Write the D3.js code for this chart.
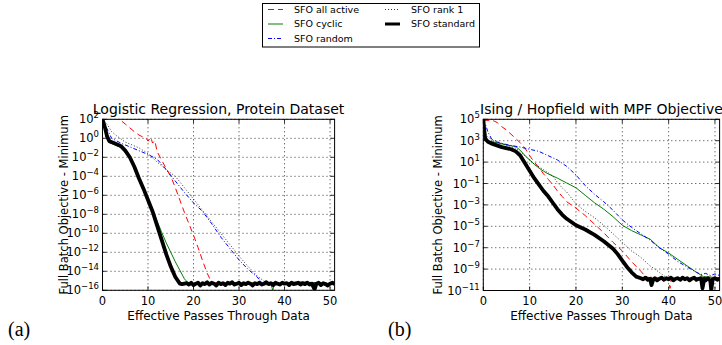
<!DOCTYPE html>
<html>
<head>
<meta charset="utf-8">
<script src="https://cdn.jsdelivr.net/npm/d3@7"></script>
<style>
  body { margin: 0; background: #fff; }
  svg { display: block; font-family: "DejaVu Sans", sans-serif; }
</style>
</head>
<body>
<div id="chart"></div>
<script>
// values are log10(full batch objective - minimum)
// [effective passes, log10 value]

// (a) Logistic Regression, Protein Dataset
const proteinAllActive = [[0,2],[1,2.05],[3,2.05],[4,1.9],[5,1.5],[6,1.1],[7,0.7],[8,0.35],[9,0.1],[9.6,0],[10,-0.3],[10.6,0.1],[11,-0.5],[11.5,-0.25],[12,-1.4],[13,-2.3],[14,-3.2],[15,-4],[16,-5.2],[17,-6.5],[18,-7.8],[19,-9],[20,-10.2],[21,-11.5],[22,-12.9],[23,-14.2],[24,-15.2],[28,-15.3],[33,-15.2],[37,-15.5],[41,-15.25],[46,-15.3],[51,-15.3]];
const proteinCyclic = [[0,2],[0.5,1],[1,0.1],[1.5,-0.45],[2.5,-0.65],[4,-0.95],[5,-1.4],[6,-2.1],[7,-3.1],[8,-4.3],[9,-5.4],[10,-6.5],[11,-7.5],[12,-8.7],[13,-9.9],[14,-11],[15,-12],[16,-13],[17,-13.9],[18,-14.8],[19,-15.3],[25,-15.3],[30,-15.2],[37,-15.3],[37.4,-16],[37.8,-15.3],[43,-15.1],[51,-15.3]];
const proteinRandom = [[0,2],[1,1],[2,0],[4,-0.5],[6,-0.9],[8,-1.3],[10,-1.7],[12,-2.2],[14,-3.3],[16,-4.5],[18,-5.7],[20,-6.8],[22,-7.7],[24,-9],[26,-10.4],[28,-11.6],[30,-12.8],[32,-13.8],[34,-14.6],[35,-15.2],[42,-15.2],[51,-15.3]];
const proteinRank1 = [[0,2],[1,1.5],[2,0.7],[3,0.3],[5,-0.4],[8,-1],[10,-1.6],[12,-2.5],[14,-3.3],[16,-4],[18,-5.2],[20,-6.4],[22,-7.6],[24,-8.8],[26,-10],[28,-11.2],[30,-12.4],[32,-13.5],[34,-14.5],[36,-15.2],[44,-15.2],[51,-15.3]];
const proteinStandard = [[0,2],[0.5,1.2],[1,0.2],[1.5,-0.3],[2.5,-0.5],[4,-0.8],[5,-1.3],[6,-2],[7,-3],[8,-4.2],[9,-5.3],[10,-6.5],[11,-7.7],[12,-9.2],[13,-10.7],[14,-12.2],[15,-13.5],[16,-14.6],[17,-15.3],
  [17.5,-15.35],[18,-15.3],[18.5,-15.25],[19,-15.4],[19.5,-15.2],[20,-15.45],[20.5,-15.3],[21,-15.2],[21.5,-15.5],[22,-15.25],[22.5,-15.35],[23,-15.15],[23.5,-15.4],[24,-15.2],[24.5,-15.3],[25,-15.5],[25.5,-15.2],[26,-15.35],[26.5,-15.25],[27,-15.45],[27.5,-15.2],[28,-15.3],[28.5,-15.15],[29,-15.4],[29.5,-15.3],[30,-15.2],[30.5,-15.45],[31,-15.25],[31.5,-15.35],[32,-15.2],[32.5,-15.3],[33,-15.5],[33.5,-15.25],[34,-15.35],[34.5,-15.2],[35,-15.4],[35.5,-15.3],[36,-15.15],[36.5,-15.35],[37,-15.25],[37.5,-15.45],[38,-15.2],[38.5,-15.3],[39,-15.4],[39.5,-15.2],[40,-15.3],[40.5,-15.25],[41,-15.45],[41.5,-15.2],[42,-15.35],[42.5,-15.3],[43,-15.2],[43.5,-15.4],[44,-15.25],[44.5,-15.35],[45,-15.2],[45.5,-15.4],[46,-15.3],[46.6,-15.9],[47,-15.3],[47.5,-15.2],[48,-15.45],[48.5,-15.25],[49,-15.35],[49.5,-15.5],[50,-15.3],[50.5,-15.2],[51,-15.35]];

// (b) Ising / Hopfield with MPF Objective
const isingAllActive = [[0,4.9],[2,4.9],[3,4.7],[4,4.3],[5,4],[6,3.6],[7,3.2],[8,2.8],[9,2.3],[10,1.6],[11,1],[12,0.5],[13,-0.1],[14,-0.6],[15,-1.1],[16,-1.7],[17,-2.2],[18,-2.7],[19,-3],[20,-3.3],[22,-4],[24,-4.8],[26,-5.6],[28,-6.5],[30,-7.3],[32,-8.3],[34,-9.2],[35,-9.7],[36,-9.8],[37,-9.7],[38,-9.9],[39,-9.75],[40,-9.9],[40.3,-10.8],[40.6,-9.8],[41.5,-9.7],[42.5,-9.9],[43.5,-9.75],[44.5,-9.85],[45.5,-9.7],[46.5,-9.9],[47.5,-9.75],[48.5,-9.8],[49.5,-9.7],[51,-9.85]];
const isingCyclic = [[0,5],[0.3,3.5],[1,3],[3,2.8],[5,2.6],[7,2.45],[8,2.1],[9,1.6],[10,1.2],[11,0.8],[12,0.45],[13,0.15],[14,-0.1],[16,-0.5],[18,-0.95],[20,-1.4],[22,-2.1],[24,-2.8],[26,-3.4],[28,-4.1],[30,-4.9],[32,-5.4],[34,-5.8],[36,-6.2],[38,-7],[40,-7.5],[42,-8.1],[44,-8.7],[46,-9.3],[47.5,-9.7],[49,-9.75],[51,-9.8]];
const isingRandom = [[0,5],[0.5,4.5],[1,3.8],[2,3],[4,2.75],[6,2.55],[8,2.4],[10,2.2],[12,2],[14,1.6],[16,1.2],[18,0.6],[20,-0.2],[22,-1.2],[24,-2],[26,-2.7],[28,-3.5],[30,-4.4],[32,-5.1],[34,-5.7],[36,-6.3],[38,-7],[40,-7.6],[42,-8.3],[44,-8.8],[46,-9.3],[47,-9.5],[48,-9.4],[49,-9.6],[50,-9.45],[51,-9.6]];
const isingRank1 = [[0,5],[0.3,3.8],[1,3.3],[3,2.9],[5,2.6],[7,2.3],[9,1.6],[11,0.8],[13,0.3],[15,-0.3],[16,-0.9],[17,-1.4],[18,-1.8],[20,-2.9],[22,-3.6],[24,-4.2],[26,-4.9],[28,-5.7],[30,-6.5],[32,-7.3],[34,-7.9],[36,-8.7],[38,-9.3],[39.5,-9.8],[45,-9.85],[51,-9.9]];
const isingStandard = [[0,5],[0.2,4],[0.4,3.2],[1,2.9],[2,2.7],[4,2.4],[6,2.2],[7,2],[8,1.6],[9,0.9],[10,0.2],[11,-0.5],[12,-1.1],[13,-1.7],[14,-2.2],[15,-2.8],[16,-3.4],[17,-3.9],[18,-4.3],[19,-4.6],[20,-4.9],[22,-5.3],[24,-5.8],[26,-6.4],[28,-7.1],[29,-7.6],[30,-8.2],[31,-8.8],[32,-9.3],[33,-9.7],[34,-9.85],
  [34.5,-9.95],[35,-9.8],[35.5,-10],[36,-9.9],[36.3,-10.5],[36.7,-9.95],[37,-9.85],[37.5,-10.05],[38,-9.9],[38.5,-9.8],[39,-10],[39.5,-9.85],[40,-9.95],[40.5,-9.8],[41,-10.05],[41.5,-9.9],[42,-9.85],[42.5,-10],[43,-9.8],[43.5,-9.95],[44,-9.85],[44.5,-10.05],[45,-9.9],[45.5,-9.8],[46,-10],[46.5,-9.9],[47,-9.85],[47.3,-10.8],[47.7,-9.9],[48,-10.05],[48.5,-9.85],[49,-10.1],[49.2,-11],[49.5,-9.95],[50,-9.85],[50.5,-10],[51,-9.9]];

const xTicks = [0, 10, 20, 30, 40, 50];
const proteinExponents = [2, 0, -2, -4, -6, -8, -10, -12, -14, -16];
const isingExponents = [5, 3, 1, -1, -3, -5, -7, -9, -11];

const legendNames = ["SFO all active", "SFO cyclic", "SFO random", "SFO rank 1", "SFO standard"];

const styles = {
  "SFO all active": { color: "#ff0000", width: 1, dash: "6,4" },
  "SFO cyclic": { color: "#008000", width: 1, dash: null },
  "SFO random": { color: "#0000ff", width: 1, dash: "4,2,1,2" },
  "SFO rank 1": { color: "#000000", width: 0.8, dash: "1,2" },
  "SFO standard": { color: "#000000", width: 3.8, dash: null }
};

const panels = [
  {
    id: "a", title: "Logistic Regression, Protein Dataset", tag: "(a)", tagX: 8, labelX: 68,
    left: 102.5, right: 334.6, top: 119.3, bottom: 290.3,
    yDomain: [-16, 2], yExp: proteinExponents,
    series: [proteinAllActive, proteinCyclic, proteinRandom, proteinRank1, proteinStandard]
  },
  {
    id: "b", title: "Ising / Hopfield with MPF Objective", tag: "(b)", tagX: 388, labelX: 442,
    left: 483.3, right: 719.6, top: 119.3, bottom: 290.5,
    yDomain: [-11, 5], yExp: isingExponents,
    series: [isingAllActive, isingCyclic, isingRandom, isingRank1, isingStandard]
  }
];

const width = 722, height = 345;

const svg = d3.select("#chart").append("svg")
  .attr("width", width)
  .attr("height", height)
  .attr("viewBox", [0, 0, width, height]);

panels.forEach((p) => {
  const x = d3.scaleLinear().domain([0, 51]).range([p.left, p.right]);
  const y = d3.scaleLog()
    .domain([Math.pow(10, p.yDomain[0]), Math.pow(10, p.yDomain[1])])
    .range([p.bottom, p.top]);

  const g = svg.append("g");

  g.append("clipPath").attr("id", "clip-" + p.id)
    .append("rect")
    .attr("x", p.left).attr("y", p.top)
    .attr("width", p.right - p.left).attr("height", p.bottom - p.top);

  // grid
  g.append("g").selectAll("line").data(xTicks).join("line")
    .attr("x1", (d) => x(d)).attr("x2", (d) => x(d))
    .attr("y1", p.top).attr("y2", p.bottom)
    .attr("stroke", "#000").attr("stroke-width", 0.8).attr("stroke-dasharray", "1,3");
  g.append("g").selectAll("line").data(p.yExp).join("line")
    .attr("x1", p.left).attr("x2", p.right)
    .attr("y1", (d) => y(Math.pow(10, d))).attr("y2", (d) => y(Math.pow(10, d)))
    .attr("stroke", "#000").attr("stroke-width", 0.8).attr("stroke-dasharray", "1,3");

  // lines
  const line = d3.line().x((d) => x(d[0])).y((d) => y(Math.pow(10, d[1])));
  g.append("g").attr("clip-path", `url(#clip-${p.id})`)
    .selectAll("path").data(p.series).join("path")
    .attr("fill", "none")
    .attr("stroke", (d, i) => styles[legendNames[i]].color)
    .attr("stroke-width", (d, i) => styles[legendNames[i]].width)
    .attr("stroke-dasharray", (d, i) => styles[legendNames[i]].dash)
    .attr("stroke-linejoin", "round")
    .attr("d", line);

  // frame + inward ticks
  g.append("rect")
    .attr("x", p.left).attr("y", p.top)
    .attr("width", p.right - p.left).attr("height", p.bottom - p.top)
    .attr("fill", "none").attr("stroke", "#000").attr("stroke-width", 1);

  const ticks = g.append("g").attr("stroke", "#000").attr("stroke-width", 0.8);
  xTicks.forEach((t) => {
    ticks.append("line").attr("x1", x(t)).attr("x2", x(t)).attr("y1", p.bottom).attr("y2", p.bottom - 4);
    ticks.append("line").attr("x1", x(t)).attr("x2", x(t)).attr("y1", p.top).attr("y2", p.top + 4);
  });
  p.yExp.forEach((e) => {
    const yy = y(Math.pow(10, e));
    ticks.append("line").attr("x1", p.left).attr("x2", p.left + 4).attr("y1", yy).attr("y2", yy);
    ticks.append("line").attr("x1", p.right).attr("x2", p.right - 4).attr("y1", yy).attr("y2", yy);
  });

  // tick labels
  g.append("g").selectAll("text").data(xTicks).join("text")
    .attr("x", (d) => x(d)).attr("y", p.bottom + 14.5)
    .attr("text-anchor", "middle").attr("font-size", 11.5)
    .text((d) => d);

  const yl = g.append("g").selectAll("text").data(p.yExp).join("text")
    .attr("x", p.left - 3.5).attr("y", (d) => y(Math.pow(10, d)) + 4)
    .attr("text-anchor", "end").attr("font-size", 11.5);
  yl.append("tspan").text("10");
  yl.append("tspan").attr("dy", -5).attr("font-size", 8.5)
    .text((d) => (d < 0 ? "\u2212" + Math.abs(d) : d));

  // titles and axis labels
  g.append("text")
    .attr("x", (p.left + p.right) / 2).attr("y", p.top - 5.5)
    .attr("text-anchor", "middle").attr("font-size", 14)
    .text(p.title);
  g.append("text")
    .attr("x", (p.left + p.right) / 2).attr("y", 320)
    .attr("text-anchor", "middle").attr("font-size", 12)
    .text("Effective Passes Through Data");
  g.append("text")
    .attr("transform", `translate(${p.labelX},${(p.top + p.bottom) / 2}) rotate(-90)`)
    .attr("text-anchor", "middle").attr("font-size", 11.5)
    .text("Full Batch Objective - Minimum");

  g.append("text")
    .attr("x", p.tagX).attr("y", 336)
    .attr("font-family", "'Liberation Serif', 'DejaVu Serif', serif")
    .attr("font-size", 20)
    .text(p.tag);
});

// legend
const legend = svg.append("g");
legend.append("rect")
  .attr("x", 262.5).attr("y", 3.5).attr("width", 217).attr("height", 43.5)
  .attr("fill", "#fff").attr("stroke", "#000").attr("stroke-width", 1);

const legendPos = [[268, 9.5], [268, 24], [268, 38.5], [385, 9.5], [385, 24]];
legendNames.forEach((name, i) => {
  const [lx, ly] = legendPos[i];
  const s = styles[name];
  legend.append("line")
    .attr("x1", lx).attr("x2", lx + 15).attr("y1", ly).attr("y2", ly)
    .attr("stroke", s.color).attr("stroke-width", Math.min(s.width, 3))
    .attr("stroke-dasharray", s.dash);
  legend.append("text")
    .attr("x", lx + 26).attr("y", ly + 3.3)
    .attr("font-size", 9.5)
    .text(name);
});
</script>
</body>
</html>
